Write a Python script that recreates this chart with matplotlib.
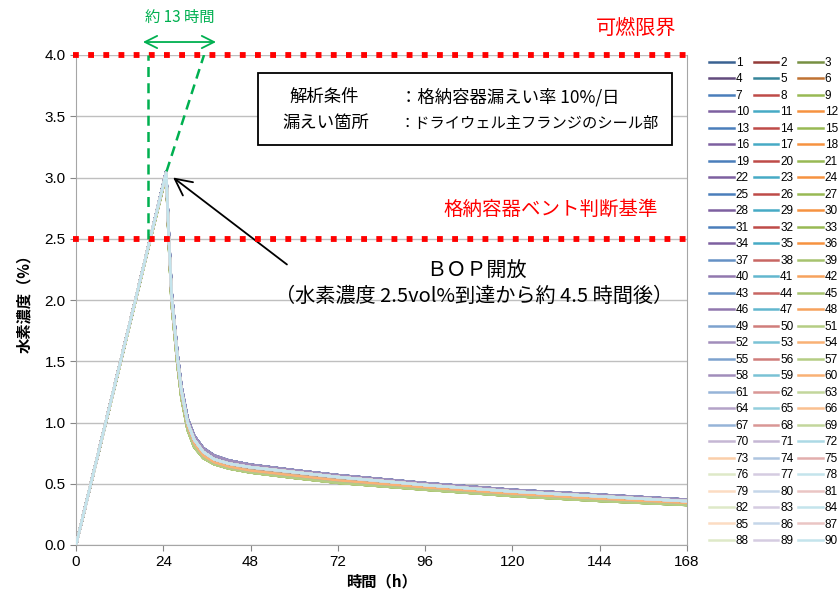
import matplotlib
matplotlib.use("Agg")
import matplotlib.pyplot as plt
from matplotlib.patches import Rectangle

plt.rcParams['font.family'] = ['Noto Sans CJK JP', 'DejaVu Sans']

# time axis (h) shared by all cases
hours = [0, 12, 20, 24.8, 25.5, 26.3, 27.9, 29.0, 30.7, 32.5, 35, 38, 42, 48,
         60, 72, 96, 120, 144, 168]

# visible bands of the 90 cases
h2_upper = [0, 1.47, 2.45, 3.05, 2.56, 2.06, 1.56, 1.29, 1.03, 0.89, 0.79, 0.73,
            0.69, 0.655, 0.61, 0.57, 0.505, 0.45, 0.41, 0.37]
h2_upper_mid = [0, 1.47, 2.45, 3.04, 2.53, 2.03, 1.53, 1.26, 1.00, 0.86, 0.76,
                0.70, 0.665, 0.635, 0.595, 0.555, 0.49, 0.437, 0.397, 0.358]
h2_mid = [0, 1.47, 2.45, 3.03, 2.50, 2.00, 1.50, 1.23, 0.97, 0.83, 0.73, 0.675,
          0.64, 0.607, 0.567, 0.528, 0.47, 0.418, 0.377, 0.343]
h2_lower = [0, 1.46, 2.44, 3.02, 2.48, 1.97, 1.47, 1.20, 0.94, 0.80, 0.71, 0.66,
            0.625, 0.592, 0.548, 0.508, 0.452, 0.40, 0.36, 0.327]
# band per colour family: blue, red, green, purple, teal, orange
band_by_family = [h2_upper, h2_mid, h2_lower, h2_upper, h2_mid, h2_mid]

case_ids = list(range(1, 91))
x_ticks = [0, 24, 48, 72, 96, 120, 144, 168]
y_ticks = [0.0, 0.5, 1.0, 1.5, 2.0, 2.5, 3.0, 3.5, 4.0]
flammable_limit = 4.0
vent_criterion = 2.5

base_colors = ['#4A7EBB', '#BE4B48', '#98B954', '#7D60A0', '#46AAC5', '#F69240']


def mix(c, other, f):
    c = matplotlib.colors.to_rgb(c)
    return tuple(a * (1 - f) + b * f for a, b in zip(c, other))


def family(n):
    return (n - 1) % 6 if n <= 70 else (n - 2) % 6


def case_color(n):
    base = base_colors[family(n)]
    if n <= 6:
        return mix(base, (0, 0, 0), 0.22)
    if n <= 36:
        return base
    if n <= 48:
        return mix(base, (1, 1, 1), 0.15)
    if n <= 60:
        return mix(base, (1, 1, 1), 0.28)
    if n <= 69:
        return mix(base, (1, 1, 1), 0.42)
    if n <= 75:
        return mix(base, (1, 1, 1), 0.55)
    return mix(base, (1, 1, 1), 0.68)


def case_band(n):
    if n >= 61:
        return h2_upper_mid
    return band_by_family[family(n)]


fig = plt.figure(figsize=(8.38, 5.96), dpi=100)
ax = fig.add_axes([76 / 838, 1 - 545 / 596, 611 / 838, 490 / 596])

handles = []
for n in case_ids:
    ln, = ax.plot(hours, case_band(n), color=case_color(n), lw=1.8,
                  solid_joinstyle='round', zorder=3)
    handles.append(ln)

ax.set_xlim(0, 168)
ax.set_ylim(0, 4.0)
ax.set_xticks(x_ticks)
ax.set_yticks(y_ticks)
ax.set_yticklabels([f"{v:.1f}" for v in y_ticks])
ax.tick_params(labelsize=11, colors='#868686', labelcolor='black', length=4)
for lab in ax.get_xticklabels() + ax.get_yticklabels():
    lab.set_family(['Liberation Sans', 'DejaVu Sans'])
ax.grid(axis='y', color='#BFBFBF', lw=1)
ax.set_axisbelow(True)
for s in ['left', 'bottom', 'right']:
    ax.spines[s].set_color('#A6A6A6')
ax.spines['top'].set_visible(False)

ax.set_xlabel("時間（h）", fontsize=11, fontweight='bold', labelpad=3)
ax.set_ylabel("水素濃度（%）", fontsize=11, fontweight='bold', labelpad=9)

# red reference lines
for yv in [flammable_limit, vent_criterion]:
    ax.plot([-0.8, 169.8], [yv, yv], color='red', lw=4.2, dashes=(1, 1.6),
            dash_capstyle='butt', zorder=5, clip_on=False)
ax.text(154, 4.22, "可燃限界", color='red', fontsize=14.5, ha='center',
        va='center')
ax.text(130.6, 2.74, "格納容器ベント判断基準", color='red', fontsize=14,
        ha='center', va='center')

# green guide lines
green = '#00B050'
ax.plot([19.8, 19.8], [2.5, 4.0], color=green, lw=1.8, ls=(0, (4, 2.5)), zorder=6)
ax.plot([24.9, 35.2], [3.05, 4.0], color=green, lw=1.8, ls=(0, (4, 2.5)), zorder=6)
ax.annotate("", xy=(18.4, 4.106), xytext=(38.5, 4.106), annotation_clip=False,
            arrowprops=dict(arrowstyle='<->', color=green, lw=1.3,
                            mutation_scale=22, shrinkA=0, shrinkB=0))
ax.text(28.6, 4.31, "約 13 時間", color=green, fontsize=11, ha='center',
        va='center', clip_on=False)

# BOP open arrow
ax.annotate("", xy=(26.7, 3.0), xytext=(58, 2.29),
            arrowprops=dict(arrowstyle='->', color='black', lw=1.3,
                            mutation_scale=30, shrinkA=0, shrinkB=0))
ax.text(110, 2.23, "ＢＯＰ開放", fontsize=14.5, ha='center', va='center')
ax.text(109.4, 2.03, "（水素濃度 2.5vol%到達から約 4.5 時間後）", fontsize=14.5,
        ha='center', va='center')

# condition box
ax.add_patch(Rectangle((50.0, 3.265), 113.9, 0.588, facecolor='white',
                       edgecolor='black', lw=1.3, zorder=7))
ax.text(58.8, 3.657, "解析条件", fontsize=12.5, va='center', zorder=8)
ax.text(56.6, 3.445, "漏えい箇所", fontsize=12.5, va='center', zorder=8)
ax.text(89.0, 3.657, "：格納容器漏えい率 10%/日", fontsize=12.5, va='center',
        zorder=8)
ax.text(89.0, 3.445, "：ドライウェル主フランジのシール部", fontsize=11,
        va='center', zorder=8)

# legend filled row by row, 3 columns
order = [i for c in range(3) for i in range(c, 90, 3)]
fig.legend([handles[i] for i in order], [str(case_ids[i]) for i in order],
           loc='upper left', bbox_to_anchor=(709 / 838, 1 - 57 / 596), ncol=3,
           frameon=False, prop={'family': 'Liberation Sans', 'size': 8.5},
           handlelength=2.1, handletextpad=0.15, columnspacing=0.4,
           labelspacing=0.38, borderpad=0, borderaxespad=0)

fig.savefig("out.png", dpi=100)
